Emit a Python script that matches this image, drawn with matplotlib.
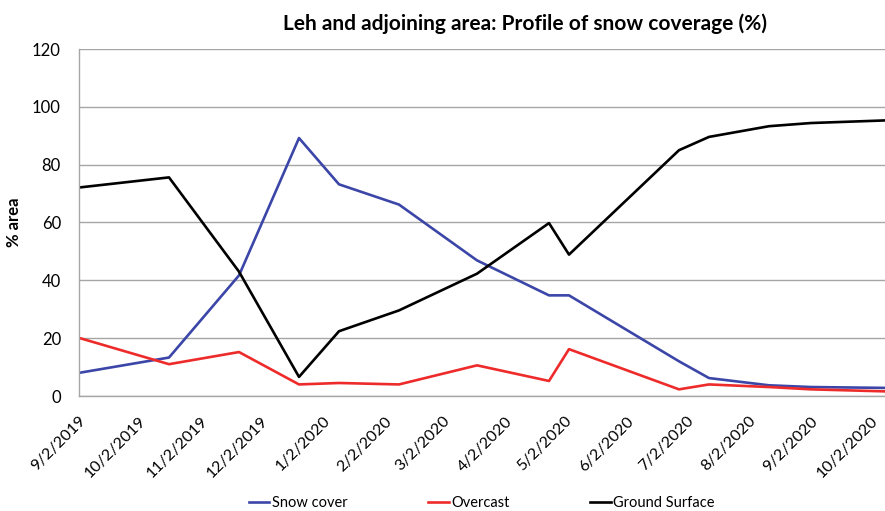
import matplotlib
matplotlib.use("Agg")
import matplotlib.pyplot as plt
import pandas as pd

plt.rcParams['font.family'] = ['Lato', 'DejaVu Sans']

dates = pd.to_datetime([
    "2019-09-02", "2019-10-17", "2019-11-21", "2019-12-21", "2020-01-10",
    "2020-02-09", "2020-03-19", "2020-04-24", "2020-05-04", "2020-06-28",
    "2020-07-13", "2020-08-12", "2020-09-02", "2020-10-09"])
snow_cover = [8.0, 13.3, 41.7, 89.2, 73.2, 66.2, 46.9, 34.8, 34.8, 12.0, 6.2, 3.7, 3.1, 2.8]
overcast = [20.1, 11.0, 15.2, 4.0, 4.5, 4.0, 10.6, 5.2, 16.2, 2.3, 4.0, 3.1, 2.3, 1.6]
ground_surface = [72.1, 75.6, 43.0, 6.6, 22.4, 29.6, 42.3, 59.8, 48.9, 85.0, 89.6, 93.3, 94.4, 95.3]
tick_dates = pd.date_range("2019-09-01", "2020-10-01", freq="MS") + pd.Timedelta(days=1)
y_ticks = [0, 20, 40, 60, 80, 100, 120]

fig = plt.figure(figsize=(8.85, 5.11), dpi=100)
ax = fig.add_axes([79/885, 115/511, 806/885, 347/511])

ax.plot(dates, snow_cover, color='#3B46A8', lw=1.9, label='Snow cover')
ax.plot(dates, overcast, color='#EE2B2B', lw=1.9, label='Overcast')
ax.plot(dates, ground_surface, color='black', lw=1.9, label='Ground Surface')

ax.set_xlim(dates[0], dates[-1])
ax.set_ylim(0, 120)
ax.set_yticks(y_ticks)
ax.set_xticks(tick_dates)
ax.set_xticklabels([f"{d.month}/{d.day}/{d.year}" for d in tick_dates],
                   rotation=45, ha='right', rotation_mode='anchor', fontsize=11.5)
ax.tick_params(axis='y', labelsize=12, length=0, pad=13)
ax.tick_params(axis='x', length=0, pad=13)
ax.grid(axis='y', color='#A6A6A6', lw=1)
ax.set_axisbelow(True)
for s in ['top', 'right']:
    ax.spines[s].set_visible(False)
for s in ['left', 'bottom']:
    ax.spines[s].set_color('#A6A6A6')
    ax.spines[s].set_linewidth(1)

ax.set_ylabel('% area', fontsize=12, fontweight='bold', labelpad=7)
ax.set_title('Leh and adjoining area: Profile of snow coverage (%)',
             fontsize=15, fontweight='bold', pad=14, x=(525-79)/806)

leg = fig.legend(loc='center', bbox_to_anchor=(482/885, 1-503/511), ncol=3,
                 frameon=False, fontsize=10.5, handlelength=1.4, handletextpad=0.2,
                 columnspacing=5.5)

fig.savefig('out.png', dpi=100)
